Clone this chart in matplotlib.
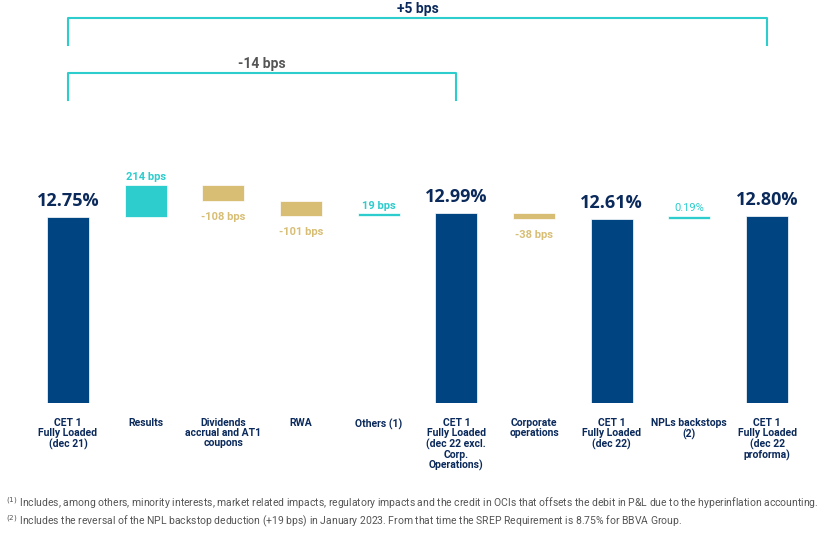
import numpy as np
import matplotlib
matplotlib.use("Agg")
import matplotlib.pyplot as plt

# CET1 fully loaded waterfall (values in %)
categories = ["CET 1\nFully Loaded\n(dec 21)", "Results", "Dividends\naccrual and AT1\ncoupons",
              "RWA", "Others (1)", "CET 1\nFully Loaded\n(dec 22 excl.\nCorp.\nOperations)",
              "Corporate\noperations", "CET 1\nFully Loaded\n(dec 22)", "NPLs backstops\n(2)",
              "CET 1\nFully Loaded\n(dec 22\nproforma)"]
values = [12.75, 2.14, -1.08, -1.01, 0.19, 12.99, -0.38, 12.61, 0.19, 12.80]
is_total = [True, False, False, False, False, True, False, True, False, True]
value_labels = ["12.75%", "214 bps", "-108 bps", "-101 bps", "19 bps", "12.99%",
                "-38 bps", "12.61%", "0.19%", "12.80%"]

footnotes = [
    r"$^{(1)}$ Includes, among others, minority interests, market related impacts, regulatory impacts and the credit in OCIs that offsets the debit in P&L due to the hyperinflation accounting.",
    r"$^{(2)}$ Includes the reversal of the NPL backstop deduction (+19 bps) in January 2023. From that time the SREP Requirement is 8.75% for BBVA Group.",
]

NAVY = "#004481"
NAVY_TXT = "#0b2a5c"
AQUA = "#2DCCCD"
SAND = "#D8BE75"

plt.rcParams["font.family"] = ["Roboto", "DejaVu Sans"]

fig = plt.figure(figsize=(8.33, 5.35), dpi=100)
ax = fig.add_axes([0, (535 - 403) / 535, 1, 403 / 535])

x = np.arange(len(values))
bottoms = []
heights = []
colors = []
level = 0.0
for v, tot in zip(values, is_total):
    if tot:
        bottoms.append(0.0)
        heights.append(v)
        colors.append(NAVY)
        level = v
    else:
        bottoms.append(level if v > 0 else level + v)
        heights.append(abs(v))
        colors.append(AQUA if v > 0 else SAND)
        level += v

ax.bar(x, heights, bottom=bottoms, width=0.54, color=colors, edgecolor="white", linewidth=0.5)

ymin = 0.35
ymax = ymin + 403 / 15
ax.set_xlim(-68 / 77.67, (833 - 68) / 77.67)
ax.set_ylim(ymin, ymax)
ax.axis("off")

# value labels
for i, (b, h, lab, tot) in enumerate(zip(bottoms, heights, value_labels, is_total)):
    if tot:
        ax.annotate(lab, (x[i], b + h), xytext=(0, 5), textcoords="offset points",
                    ha="center", va="bottom", fontsize=13, fontweight="bold", color=NAVY_TXT,
                    family=["Open Sans", "DejaVu Sans"])
    elif values[i] > 0:
        ax.annotate(lab, (x[i], b + h), xytext=(0, 2), textcoords="offset points",
                    ha="center", va="bottom", fontsize=8, fontweight="bold" if "bps" in lab else "normal",
                    color=AQUA)
    else:
        ax.annotate(lab, (x[i], b), xytext=(0, -7.5), textcoords="offset points",
                    ha="center", va="top", fontsize=8, fontweight="bold", color=SAND)

# category labels
for i, cat in enumerate(categories):
    ax.annotate(cat, (x[i], 0), xycoords=("data", "axes fraction"), xytext=(0, -11),
                textcoords="offset points", ha="center", va="top", fontsize=7.5,
                fontweight="bold", color=NAVY_TXT, linespacing=1.0)

# brackets
def bracket(i0, i1, y_top, y_bot, text, tcolor):
    ax.plot([x[i0], x[i0], x[i1], x[i1]], [y_bot, y_top, y_top, y_bot],
            color=AQUA, lw=1.5, transform=ax.get_xaxis_transform(), clip_on=False)
    ax.text((x[i0] + x[i1]) / 2, y_top + 0.004, text, transform=ax.get_xaxis_transform(),
            ha="center", va="bottom", fontsize=10, fontweight="bold", color=tcolor)

bracket(0, 9, 1 - 18 / 403, 1 - 45 / 403, "+5 bps", NAVY_TXT)
bracket(0, 5, 1 - 73 / 403, 1 - 100 / 403, "-14 bps", "#555555")

# footnotes
fig.text(6 / 833, 1 - 503 / 535, footnotes[0], ha="left", va="center", fontsize=7.45, color="#555555")
fig.text(6 / 833, 1 - 521 / 535, footnotes[1], ha="left", va="center", fontsize=7.45, color="#555555")

fig.savefig("out.png", dpi=100)
